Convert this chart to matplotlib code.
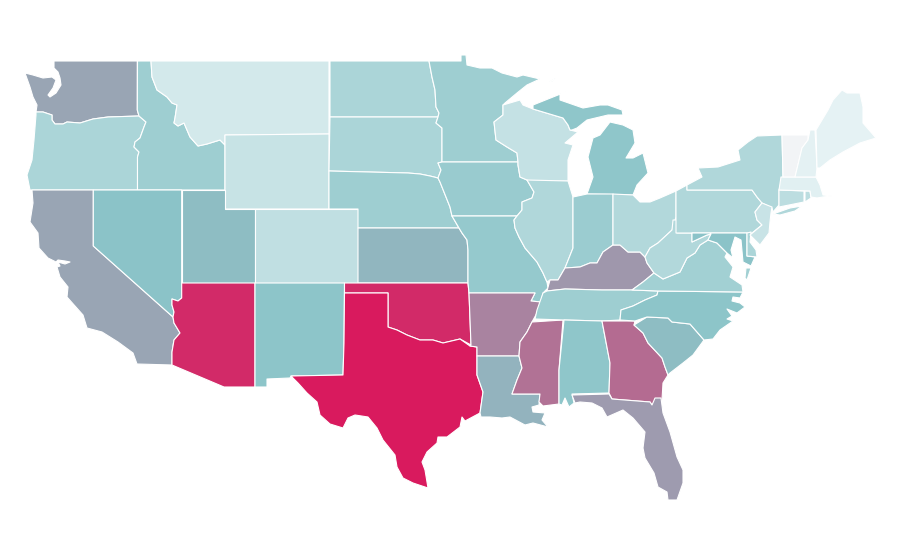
import matplotlib
matplotlib.use("Agg")
import matplotlib.pyplot as plt
from matplotlib.colors import LinearSegmentedColormap, Normalize
from matplotlib.patches import Polygon

STATES = ["WA","OR","CA","ID","NV","MT","WY","UT","AZ","CO","NM","ND","SD","NE","KS","OK","TX",
          "MN","IA","MO","AR","LA","WI","IL","MS","MI","IN","KY","TN","AL","OH","GA","FL","SC",
          "NC","VA","WV","PA","NY","MD","DE","NJ","CT","RI","MA","VT","NH","ME"]
VALUES = [59,34,59,41,50,15,21,52,95,24,49,34,34,41,54,95,100,
          41,43,45,69,55,22,32,74,48,42,63,41,48,31,76,62,52,
          49,39,31,32,32,50,34,20,26,26,8,0,7,6]
COLOR_STOPS = [(0.0, "#f2f4f6"), (0.06, "#e5f2f4"), (0.5, "#8bc4c8"), (1.0, "#d91a5e")]

# State outlines (no geographic library is available)
OUTLINES = {
"WA":[[(54,61),(137.3,61),(137.3,110),(139,116),(108,117),(93,119),(80,123),(67,122),(63,124),(55,124),(52,120),(52,115),(43,112),(36,112),(37,105),(33,97),(30,87),(25,73),(33,75),(43,78),(52,77),(56,80),(53,88),(48,95),(50,97),(56,93),(61,85),(60,78),(58,72),(54,68)]],
"OR":[[(36,112),(43,112),(52,115),(52,120),(55,124),(63,124),(67,122),(80,123),(93,119),(108,117),(139,116),(146,122),(144,127),(140,138),(135,142),(134,147),(139,152),(137.5,157),(137.5,190),(30,190),(27,175),(32,160),(34,140),(36,115)]],
"CA":[[(32,190),(93.3,190),(93.3,246),(173,317),(174,323),(180,333),(174,340),(172,352),(172,365),(137,364),(133,353),(118,342),(102,332),(87,328),(83,315),(67,297),(68,287),(60,277),(57,267),(60,266),(58,262),(65,264),(70,262),(65,261),(58,260),(56,262),(48,258),(39,248),(38,233),(30,222),(33,203)]],
"ID":[[(137.5,61),(151,61),(152,77),(157,90),(167,97),(172,103),(177,105),(175,118),(174,123),(178,126),(184,123),(190,137),(198,146),(207,144),(220,140),(225,145),(225,190),(137.5,190),(137.5,157),(139,152),(134,147),(135,142),(140,138),(144,127),(146,122),(139,116),(137.3,110)]],
"NV":[[(93.3,190),(181.7,190),(181.7,298),(178,301),(172,299),(172,305),(174,312),(173,317),(93.3,246)]],
"MT":[[(151,61),(329,61),(329,134),(225,135),(225,145),(220,140),(207,144),(198,146),(190,137),(184,123),(178,126),(174,123),(175,118),(177,105),(172,103),(167,97),(157,90),(152,77)]],
"WY":[[(225,135),(329,134),(329,209),(225,209)]],
"UT":[[(181.7,190),(225,190),(225,209),(255,209),(255,283),(181.7,283)]],
"AZ":[[(181.7,283),(255,283),(255,387),(224,387),(172,365),(172,352),(174,340),(180,333),(174,323),(173,317),(174,312),(172,305),(172,299),(178,301),(181.7,298)]],
"CO":[[(255,209),(358,209),(358,283),(255,283)]],
"NM":[[(255,283),(344.5,283),(344,343),(343,375),(291,376),(290,378),(267,379),(267,387),(255,387)]],
"ND":[[(330,61),(429,61),(432,77),(435,90),(436,107),(439,113),(438,117),(330,117)]],
"SD":[[(330,117),(438,117),(436,123),(442,128),(442,162),(438,163),(441,170),(438,178),(430,176),(420,174),(408,173),(329,171)]],
"NE":[[(329,171),(408,173),(420,174),(430,176),(438,178),(440,182),(446,197),(450,207),(452,216),(459,228),(358,228),(358,209),(329,209)]],
"KS":[[(358,228),(459,228),(462,233),(467,240),(468,250),(468,283),(358,283)]],
"OK":[[(344.5,283),(468,283),(469,293),(471,345),(460,339),(443,343),(433,340),(420,340),(407,335),(397,330),(388,327),(388,293),(344.5,293)]],
"TX":[[(344.5,293),(388,293),(388,327),(397,330),(407,335),(420,340),(433,340),(443,343),(460,339),(470,346),(477,347),(477,375),(483,392),(480,413),(465,421),(462,417),(460,427),(447,437),(438,437),(437,443),(427,452),(422,462),(425,470),(428,488),(413,483),(403,478),(397,467),(395,455),(383,440),(377,428),(368,417),(355,415),(348,418),(343,428),(330,424),(320,415),(317,402),(307,393),(298,383),(291,376),(343,375),(344,343)]],
"MN":[[(429,61),(461,61),(461,55),(466,55),(467,65),(480,68),(492,68),(502,73),(517,77),(523,75),(540,79),(527,85),(517,93),(505,103),(503,105),(503,115),(494,122),(496,140),(507,147),(517,153),(518,162),(442,162),(442,128),(436,123),(438,117),(439,113),(436,107),(435,90),(432,77)]],
"IA":[[(442,162),(518,162),(518,165),(520,177),(527,180),(534,192),(532,198),(522,202),(522,210),(517,216),(452,216),(450,207),(446,197),(440,182),(438,178),(441,170),(438,163)]],
"MO":[[(452,216),(517,216),(514,220),(515,228),(519,237),(525,248),(537,262),(543,273),(547,282),(548,288),(543,293),(541,302),(531,301),(535,293),(469,293),(468,283),(468,250),(467,240),(462,233),(459,228)]],
"AR":[[(469,293),(535,293),(531,301),(541,302),(537,313),(532,322),(527,332),(520,342),(519,356),(477,356),(477,347),(470,346),(471,345)]],
"LA":[[(477,356),(519,356),(522,368),(517,380),(512,394),(540,394),(539,405),(532,407),(533,412),(545,413),(542,420),(548,427),(533,423),(525,425),(510,417),(502,418),(490,417),(481,417),(480,413),(483,392),(477,375)]],
"WI":[[(503,105),(520,100),(523,105),(533,109),(563,118),(568,125),(570,130),(578,132),(565,143),(573,145),(568,160),(568,181),(528,181),(527,180),(520,177),(518,165),(518,162),(517,153),(507,147),(496,140),(494,122),(503,115)]],
"IL":[[(527,180),(568,181),(573,197),(573,248),(565,268),(558,280),(550,280),(547,282),(543,273),(537,262),(525,248),(519,237),(515,228),(514,220),(517,216),(522,210),(522,202),(532,198),(534,192)]],
"MS":[[(532,322),(563,320),(559,370),(559,404),(543,406),(539,402),(540,394),(512,394),(517,380),(522,368),(519,356),(520,342),(527,332)]],
"MI":[[(533,109),(533,105),(553,97),(558,95),(568,91),(560,95),(560,100),(583,108),(600,105),(608,105),(622,110),(623,115),(608,115),(587,120),(577,128),(572,130),(570,130),(568,125),(563,118)],
      [(610,122),(623,125),(633,130),(635,143),(626,158),(633,158),(643,153),(648,173),(637,185),(633,195),(587,194),(593,177),(588,157),(593,138),(600,135)],
      [(549,82),(556,78),(553,81)]],
"IN":[[(573,197),(587,194),(613,194),(613,245),(603,252),(597,263),(590,263),(580,267),(565,268),(573,248)]],
"KY":[[(632,290),(602,290),(565,289),(547,291),(550,280),(558,280),(565,268),(580,267),(590,263),(597,263),(603,252),(613,245),(620,245),(628,252),(640,252),(645,257),(647,263),(654,273),(643,282)]],
"TN":[[(535,319),(537,310),(543,293),(547,291),(565,289),(602,290),(632,290),(658,291),(657,295),(645,300),(633,306),(621,310),(620,320),(602,321),(564,320)]],
"AL":[[(564,320),(602,321),(610,363),(609,393),(572,394),(574,403),(569,407),(565,398),(562,405),(559,404),(559,370)]],
"OH":[[(613,194),(633,195),(640,202),(650,202),(660,198),(676,191),(676,217),(673,227),(672,230),(658,243),(650,248),(645,257),(640,252),(628,252),(620,245),(613,245)]],
"GA":[[(602,321),(635,321),(634,325),(643,333),(648,343),(662,358),(665,367),(668,375),(663,383),(662,400),(652,405),(650,402),(612,399),(609,393),(610,363)]],
"FL":[[(572,395),(609,394),(612,399),(650,402),(652,405),(655,398),(661,398),(663,413),(670,432),(677,457),(683,470),(683,483),(677,500),(668,500),(667,492),(658,487),(654,473),(645,458),(643,448),(645,432),(633,418),(623,410),(607,417),(602,408),(592,403),(580,402),(575,403)]],
"SC":[[(634,325),(647,317),(668,318),(672,322),(690,324),(704,340),(693,355),(683,363),(670,373),(668,375),(665,367),(662,358),(648,343),(643,333)]],
"NC":[[(620,320),(621,310),(633,306),(645,300),(657,295),(658,291),(743,292),(740,298),(733,297),(732,301),(740,303),(745,307),(737,313),(727,309),(732,316),(727,319),(733,321),(720,330),(713,339),(704,340),(690,324),(672,322),(668,318),(647,317),(635,321)]],
"VA":[[(654,273),(663,279),(680,272),(687,258),(695,253),(700,245),(708,240),(717,243),(727,253),(725,257),(733,267),(730,277),(742,285),(743,292),(658,291),(632,290),(643,282)],
      [(751,268),(747,280),(745,278),(746,268)]],
"WV":[[(673,220),(677,220),(677,233),(692,233),(692,242),(707,235),(711,234),(708,240),(700,245),(695,253),(687,258),(680,272),(663,279),(654,273),(647,263),(645,257),(650,248),(658,243),(672,230)]],
"PA":[[(676,191),(687,185),(687,190),(752,190),(757,197),(762,203),(755,212),(757,220),(762,225),(752,233),(676,233)]],
"NY":[[(687,185),(702,177),(698,168),(718,167),(740,160),(738,150),(748,142),(757,136),(782,135),(783,177),(779,190),(779,205),(773,212),(772,208),(762,203),(757,197),(752,190),(687,190)],
      [(773,214),(790,208),(802,206),(795,211),(780,215)]],
"MD":[[(692,233),(747,233),(747,256),(755,257),(751,266),(743,262),(741,240),(735,237),(731,250),(733,258),(727,253),(717,243),(708,240),(711,234),(707,235),(692,242)]],
"DE":[[(747,233),(751,232),(750,242),(756,250),(757,257),(747,256)]],
"NJ":[[(762,203),(772,207),(771,213),(770,222),(769,233),(760,245),(750,235),(762,225),(757,220),(755,212)]],
"CT":[[(779,190),(804,191),(804,202),(779,207)]],
"RI":[[(805,191),(810,191),(811,198),(805,202)]],
"MA":[[(781,177),(816,177),(820,185),(823,195),(832,196),(823,197),(817,198),(811,197),(810,191),(779,190)]],
"VT":[[(782,135),(808,135),(808,140),(802,148),(795,177),(783,177)]],
"NH":[[(808,140),(810,130),(815,130),(817,168),(816,177),(795,177),(802,148)]],
"ME":[[(816,130),(828,110),(833,100),(842,90),(847,93),(860,93),(863,107),(863,123),(876,138),(860,143),(843,152),(830,160),(820,168),(817,168)]],
}

cmap = LinearSegmentedColormap.from_list("rate", COLOR_STOPS)
norm = Normalize(0, 100)

fig = plt.figure(figsize=(9, 5.6), dpi=100)
ax = fig.add_axes([0, 0, 1, 1])
ax.set_xlim(0, 900)
ax.set_ylim(560, 0)
ax.axis("off")

for state, value in zip(STATES, VALUES):
    for ring in OUTLINES[state]:
        ax.add_patch(Polygon(ring, closed=True, facecolor=cmap(norm(value)),
                             edgecolor="white", linewidth=0.8, joinstyle="round"))

fig.savefig("out.png", dpi=100, facecolor="white")
